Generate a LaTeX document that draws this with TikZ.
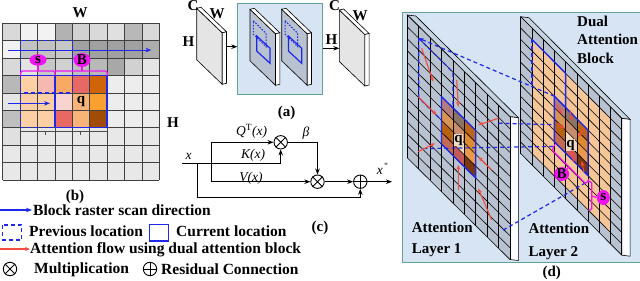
\documentclass[tikz,border=0pt]{standalone}
\usepackage{fontspec}
\setmainfont{Liberation Serif}
\usetikzlibrary{arrows.meta,shapes.geometric}
\definecolor{myblue}{RGB}{30,40,235}
\definecolor{myred}{RGB}{245,75,65}
\definecolor{mymag}{RGB}{240,20,240}
\definecolor{tealb}{RGB}{100,160,150}
\definecolor{boxfill}{RGB}{214,228,244}
\definecolor{cellb}{RGB}{184,194,208}
\definecolor{lpeach}{RGB}{244,198,152}
\definecolor{peach}{RGB}{252,208,164}
\definecolor{pinkc}{RGB}{244,186,176}
\definecolor{orc}{RGB}{248,170,100}
\definecolor{redc}{RGB}{232,104,100}
\definecolor{dkor}{RGB}{208,100,8}
\definecolor{ltpink}{RGB}{248,212,208}
\definecolor{peachor}{RGB}{248,180,120}
\definecolor{ortwo}{RGB}{248,160,48}
\definecolor{brownc}{RGB}{160,76,8}
\definecolor{ca}{RGB}{180,124,124}
\definecolor{cb}{RGB}{140,116,100}
\definecolor{cc}{RGB}{188,100,24}
\definecolor{cd}{RGB}{216,148,84}
\definecolor{ce}{RGB}{200,140,110}
\definecolor{cf}{RGB}{224,138,48}
\definecolor{cg}{RGB}{184,98,14}
\definecolor{ch}{RGB}{240,220,196}
\definecolor{ci}{RGB}{232,154,72}
\definecolor{cj}{RGB}{196,106,80}
\definecolor{ck}{RGB}{198,90,90}
\definecolor{cl}{RGB}{124,56,8}
\begin{document}
\begin{tikzpicture}[x=1pt,y=-1pt,
  every node/.style={inner sep=0pt, font=\fontsize{15}{17}\selectfont\bfseries},
  leg/.style={anchor=west, font=\fontsize{15.5}{17}\selectfont\bfseries},
  itl/.style={font=\fontsize{13.5}{15}\selectfont\itshape},
  barrow/.style={draw=myblue, line width=1.1pt, -{Stealth[length=6pt,width=4.5pt]}},
  rarrow/.style={draw=myred, line width=1.1pt, -{Stealth[length=5pt,width=4pt]}},
  bdash/.style={draw=myblue, line width=1.2pt, dash pattern=on 4pt off 3pt},
  bsolid/.style={draw=myblue, line width=1.3pt},
  carrow/.style={line width=0.9pt, -{Stealth[length=6pt,width=4.5pt]}},
  op/.style={circle, draw, line width=0.9pt, minimum size=13.4pt, inner sep=0pt},
  panel/.style={fill=boxfill, draw=tealb, line width=1.1pt},
  magline/.style={draw=mymag, line width=1.2pt, rounded corners=1.5pt},
  magell/.style={ellipse, fill=mymag, minimum width=17pt, minimum height=11.5pt, inner sep=0pt},
  gline/.style={draw=black, line width=0.6pt}
]
\useasboundingbox (0,0) rectangle (640,281);

% ================= panel (b) =================
\begin{scope}[shift={(2.7pt,-23.3pt)}, x=17.4pt, y=-17.4pt]
  \foreach \row [count=\j from 0] in {
     {15,5,5,30,18,15,12,28,15},
     {5,24,24,22,37,37,37,37,32},
     {15,11,22,18,25,28,34,18,10},
     {28,0,0,0,0,0,7,7,7},
     {10,0,0,0,0,0,7,7,7},
     {25,0,0,0,0,0,7,7,7},
     {12,9,9,9,9,9,9,9,9},
     {9,9,9,9,9,9,9,9,9},
     {9,9,9,9,9,9,9,9,9}} {
    \foreach \v [count=\i from 0] in \row {
      \fill[black!\v] (\i,\j) rectangle ++(1,1);
    }
  }
  \foreach \i/\j/\c in {1/3/peach,2/3/pinkc,3/3/orc,4/3/redc,5/3/dkor,
                        1/4/peach,2/4/peach,3/4/ltpink,4/4/peachor,5/4/ortwo,
                        1/5/peach,2/5/peach,3/5/redc,4/5/peachor,5/5/brownc}
    \fill[\c] (\i,\j) rectangle ++(1,1);
  \foreach \i in {0,...,9} \draw[black!75, line width=0.7pt] (\i,0) -- (\i,9);
  \foreach \j in {0,...,9} \draw[black!75, line width=0.7pt] (0,\j) -- (9,\j);
  \coordinate (bq) at (4.5,4.5);
  \draw[bsolid] (1,3) -- (6,3) -- (6,6) -- (3,6) -- (3,3);
  \draw[bdash] (1,1) rectangle (4,4);
  \draw[bdash] (1,4) -- (1,6) -- (3,6);
  \coordinate (sa1) at (0.32,1.54); \coordinate (sa2) at (8.55,1.54);
  \coordinate (sb1) at (0.32,4.6);  \coordinate (sb2) at (2.72,4.6);
  \draw[barrow] (sa1) -- (sa2);
  \draw[barrow] (sb1) -- (sb2);
\end{scope}
\node (qb) at (bq) {q};
\draw[magline] (20.7,75.5) -- (20.7,71) -- (55,71) -- (55,75.5);
\draw[magline] (55,71) -- (107.3,71) -- (107.3,75.5);
\node[magell] (sb) at (38,60) {s};
\node[magell] (Bb) at (82,60) {B};
\draw[draw=mymag, line width=1.2pt] (sb.south) -- (sb.south |- 0,71);
\draw[draw=mymag, line width=1.2pt] (Bb.south) -- (Bb.south |- 0,71);
\draw[gline, black!70] (20.7,128.5) -- (20.7,131.5) -- (107.3,131.5) -- (107.3,128.5);
\draw[gline, black!70] (55,131.5) -- (55,128.5);
\draw[gline, black!70] (45,131.5) -- (45,134.5);
\draw[gline, black!70] (80,131.5) -- (80,134.5);
\node (Wb) at (80,13) {W};
\node (Hb) at (173,123) {H};
\node (lb) at (75,197) {(b)};

% ================= panel (a) =================
\newcommand\slabA[3]{%
  \filldraw[fill=#3, draw=black, line width=0.6pt] (#1,#2) -- ++(25.5,24.5) -- ++(0,51.5) -- ++(-25.5,-24.5) -- cycle;
  \filldraw[fill=white, draw=black, line width=0.6pt] (#1,#2) -- ++(4.3,-1) -- ++(25.5,24.5) -- ++(-4.3,1) -- cycle;
  \filldraw[fill=white, draw=black, line width=0.6pt] (#1,#2) ++(25.5,24.5) -- ++(4.3,-1) -- ++(0,51.5) -- ++(-4.3,1) -- cycle;
}
\newcommand\slabIn[2]{%
  \draw[myblue, line width=1pt, dash pattern=on 1.5pt off 1.5pt] (#1,#2) ++(3.3,11.4) -- ++(12.7,12.6) -- ++(0,13.4) -- ++(-12.7,-12.6) -- cycle;
  \draw[myblue, line width=1.2pt] (#1,#2) ++(6.7,26.7) -- ++(13.3,12.3) -- ++(0,15) -- ++(-13.3,-12.3) -- cycle;
}
\node[panel, minimum width=84.4pt, minimum height=91.6pt, anchor=north west] (boxa) at (237.3,2.7) {};
\slabA{196.7}{8.3}{black!10}
\slabA{250}{9.3}{cellb}
\slabIn{250}{9.3}
\slabA{281.7}{9.3}{cellb}
\slabIn{281.7}{9.3}
\slabA{339.3}{10}{black!10}
\coordinate (s1r) at (226.5,46.7);
\coordinate (s3l) at (339.3,48.3);
\draw[carrow] (s1r) -- (boxa.west |- s1r);
\draw[carrow] (boxa.east |- s3l) -- (s3l);
\node (Ca1) at (193,6) {C};
\node (Wa1) at (217,14) {W};
\node (Ha1) at (188.5,42) {H};
\node (Ca3) at (334.5,6) {C};
\node (Wa3) at (360,16) {W};
\node (Ha3) at (331.5,40) {H};
\node (la) at (286.7,113.3) {(a)};

% ================= panel (c) =================
\node[op] (m1) at (280.7,142.3) {};
\draw[line width=0.9pt] (m1.45) -- (m1.225) (m1.135) -- (m1.315);
\node[op] (m2) at (317.5,181.7) {};
\draw[line width=0.9pt] (m2.45) -- (m2.225) (m2.135) -- (m2.315);
\node[op] (pl) at (360.3,181.7) {};
\draw[line width=0.9pt] (pl.north) -- (pl.south) (pl.east) -- (pl.west);
\coordinate (xin) at (182,163.3);
\coordinate (qv) at (211.7,163.3);
\coordinate (b1) at (197.3,163.3);
\coordinate (b1d) at (197.3,197.3);
\coordinate (xout) at (392,181.7);
\draw[carrow] (xin) -| (m1.south);
\draw[carrow] (qv) |- (m1.west);
\draw[carrow] (qv) |- (m2.west);
\draw[carrow] (m1.east) -| (m2.north);
\draw[carrow] (m2.east) -- (pl.west);
\draw[carrow] (b1) -- (b1d) -| (pl.south);
\draw[carrow] (pl.east) -- (xout);
\node[itl] (xl) at (188.5,156.5) {x};
\node[itl] (ql) at (251.7,131.5) {Q\textsuperscript{\upshape T}(x)};
\node[itl] (kl) at (253,155.5) {K(x)};
\node[itl] (vl) at (251,178) {V(x)};
\node[itl] (bl) at (306,133.5) {β};
\node[itl] (xol) at (382.5,169) {x\textsuperscript{\upshape\,\textquotesingle\textquotesingle}};
\node (lc) at (320,228) {(c)};

% ================= legend =================
\coordinate (lg1a) at (0,210); \coordinate (lg1b) at (32,210);
\draw[barrow] (lg1a) -- (lg1b);
\node[leg] (t1) at (33,210) {Block raster scan direction};
\draw[bdash] (2.7,225) rectangle (21.7,240);
\node[leg] (t2) at (29,231.5) {Previous location};
\draw[bsolid] (149.3,224.3) rectangle (168.3,241);
\node[leg] (t3) at (176,231.5) {Current location};
\coordinate (lg3a) at (0,249); \coordinate (lg3b) at (30,249);
\draw[rarrow] (lg3a) -- (lg3b);
\node[leg] (t4) at (30,249.5) {Attention flow using dual attention block};
\node[op] (om) at (10,269) {};
\draw[line width=0.9pt] (om.45) -- (om.225) (om.135) -- (om.315);
\node[leg] (t5) at (34,269.5) {Multiplication};
\node[op] (op) at (150,269) {};
\draw[line width=0.9pt] (op.north) -- (op.south) (op.east) -- (op.west);
\node[leg] (t6) at (161,269.5) {Residual Connection};

% ================= panel (d) =================
\node[panel, minimum width=237.8pt, minimum height=250pt, anchor=north west] (boxd) at (401.7,11.7) {};
\filldraw[fill=black!8!boxfill, draw=black, line width=0.6pt] (407.3,15) -- (415.8,16) -- (518.4,117.7) -- (509.9,116.7) -- cycle;
\filldraw[fill=white!90!boxfill, draw=black, line width=0.6pt] (509.9,116.7) -- (518.4,117.7) -- (518.4,260.5) -- (509.9,259.5) -- cycle;
\begin{scope}[shift={(407.3pt,-15pt)}, x={(11.4pt,-11.3pt)}, y={(0pt,-11.9pt)}]
  \fill[cellb] (0,0) -- (9,0) -- (9,12) -- (0,12) -- cycle;
  \foreach \i/\j/\c in {3/4/ca,4/4/cb,5/4/cc,3/5/cd,4/5/ce,5/5/cf,3/6/cg,4/6/ch,5/6/ci,3/7/cj,4/7/ck,5/7/cl}
    \fill[\c] (\i,\j) -- ++(1,0) -- ++(0,1) -- ++(-1,0) -- cycle;
  \foreach \i in {0,...,9} \draw[gline] (\i,0) -- (\i,12);
  \foreach \j in {0,...,12} \draw[gline] (0,\j) -- (9,\j);
  \draw[bsolid] (3,4) -- (6,4) -- (6,8) -- (3,8) -- cycle;
  \draw[bdash] (1,1) -- (4,1) -- (4,4);
  \draw[bdash] (1,1) -- (1,6) -- (3,6);
  \coordinate (A1) at (1,1);
  \coordinate (A2) at (8,1.5);
  \coordinate (A3) at (1.4,9.9);
  \coordinate (A4) at (8.4,10.1);
\end{scope}
\filldraw[fill=black!8!boxfill, draw=black, line width=0.6pt] (520.7,16.7) -- (529,17.7) -- (630.1,119.4) -- (621.8,118.4) -- cycle;
\filldraw[fill=white!90!boxfill, draw=black, line width=0.6pt] (621.8,118.4) -- (630.1,119.4) -- (630.1,256.2) -- (621.8,255.2) -- cycle;
\begin{scope}[shift={(520.7pt,-16.7pt)}, x={(11.23pt,-11.3pt)}, y={(0pt,-11.4pt)}]
  \fill[cellb] (0,0) -- (9,0) -- (9,12) -- (0,12) -- cycle;
  \fill[lpeach] (1,1) -- (8,1) -- (8,11) -- (1,11) -- cycle;
  \foreach \i/\j/\c in {3/4/ca,4/4/cb,5/4/cc,3/5/cd,4/5/ce,5/5/cf,3/6/cg,4/6/ch,5/6/ci,3/7/cj,4/7/ck,5/7/cl}
    \fill[\c] (\i,\j) -- ++(1,0) -- ++(0,1) -- ++(-1,0) -- cycle;
  \foreach \i in {0,...,9} \draw[gline] (\i,0) -- (\i,12);
  \foreach \j in {0,...,12} \draw[gline] (0,\j) -- (9,\j);
  \draw[bsolid] (3,4) -- (6,4) -- (6,8) -- (3,8) -- cycle;
  \draw[bsolid] (1,1) -- (4,1) -- (4,4);
  \draw[bdash] (1,1) -- (1,5);
  \coordinate (B1) at (3,4);
  \coordinate (B2) at (3,6.5);
  \coordinate (B3) at (3,8.4);
  \coordinate (B4) at (6,8.5);
\end{scope}
\draw[bdash, -{Stealth[length=5pt,width=4pt]}] (B1) -- (A1);
\draw[bdash] (A2) -- (B2);
\draw[bdash] (A3) -- (B3);
\draw[bdash] (A4) -- (B4);
\foreach \a/\b in {{421.7,48.3}/{433.3,81.7}, {456.7,80}/{458.3,106.7}, {418.3,96.7}/{436.7,115},
                   {498.3,118.3}/{478.3,125}, {418.3,151.7}/{435,143.3}, {458.3,190}/{458.3,165},
                   {491.7,170}/{478.3,156.7}, {491.7,220}/{478.3,188.3}}
  \draw[rarrow] (\a) -- (\b);
\foreach \a/\b in {{556.7,104}/{561.7,114}, {570,110}/{571.7,121}, {557.5,123}/{565,129},
                   {584,129}/{578,137}, {573.3,162}/{571.7,150}, {584,172}/{581.7,161}}
  \draw[rarrow, line width=0.9pt] (\a) -- (\b);
\node[fill=ch, inner sep=0.5pt] (q1) at (458.6,140) {q};
\node[fill=ch, inner sep=0.5pt] (q2) at (570.5,145) {q};
\draw[magline] (555,144.5) -- (552,150) -- (586,184) -- (589,179);
\node[magell, minimum width=15pt, minimum height=12pt] (B2l) at (561.7,174) {B};
\draw[draw=mymag, line width=1.2pt] (569,167) -- (B2l.north east);
\draw[magline] (588,181.7) -- (591.7,181.7) -- (591.7,210) -- (588,210);
\node[magell, minimum width=13pt, minimum height=15pt] (s2l) at (603.3,197.5) {s};
\draw[draw=mymag, line width=1.2pt] (591.7,196) -- (s2l.west);
\node[anchor=west] (d1) at (577,21.7) {Dual};
\node[anchor=west] (d2) at (577,39.5) {Attention};
\node[anchor=west] (d3) at (577,58) {Block};
\node[anchor=west] (at1) at (411.7,227) {Attention};
\node[anchor=west] (ly1) at (411.7,250) {Layer 1};
\node[anchor=west] (at2) at (528.3,228.5) {Attention};
\node[anchor=west] (ly2) at (528.3,253.5) {Layer 2};
\node (ld) at (551.7,273) {(d)};
\end{tikzpicture}
\end{document}
